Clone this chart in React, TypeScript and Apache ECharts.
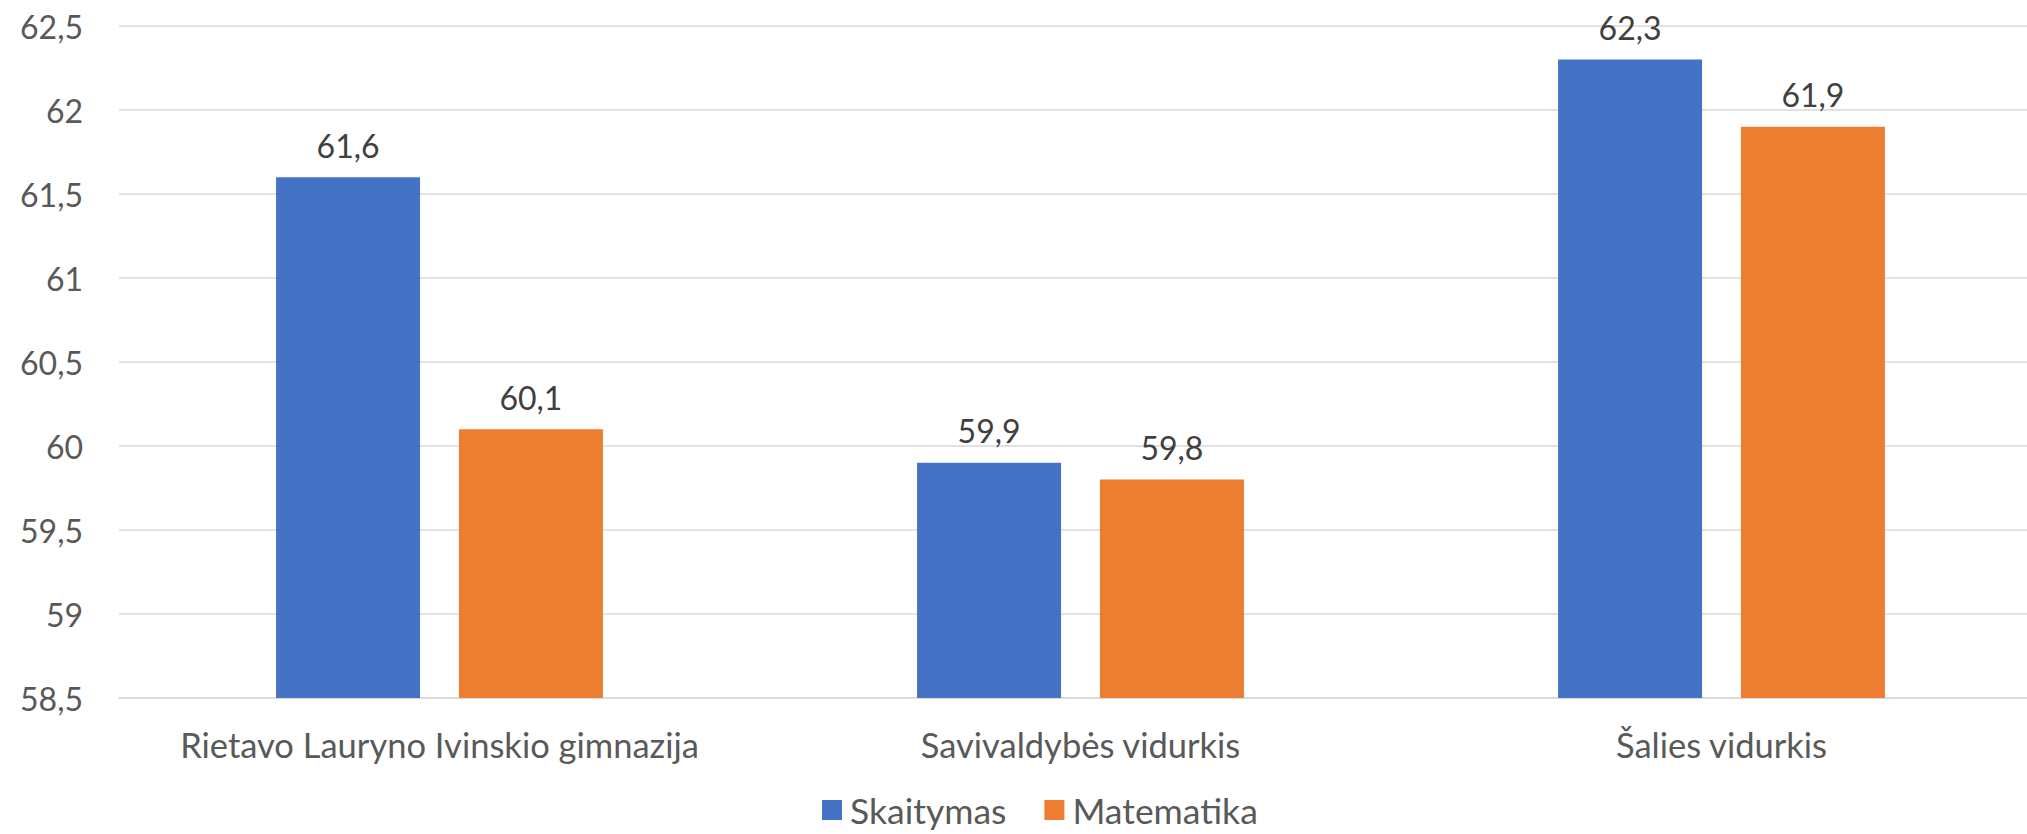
import React, { useEffect, useRef } from "react";
import * as echarts from "echarts";

const categories = ["Rietavo Lauryno Ivinskio gimnazija", "Savivaldybės vidurkis", "Šalies vidurkis"];
const skaitymas = [61.6, 59.9, 62.3];
const matematika = [60.1, 59.8, 61.9];
const seriesNames = ["Skaitymas", "Matematika"];

const fmt = (v: number) => String(v).replace(".", ",");
const FONT = "Lato";

export default function App() {
  const ref = useRef<HTMLDivElement>(null);
  useEffect(() => {
    const chart = echarts.init(ref.current!, null, { renderer: "svg" });
    const label = {
      show: true,
      position: "top",
      distance: 16,
      color: "#404040",
      fontSize: 32,
      fontFamily: FONT,
      formatter: (p: any) => fmt(p.value),
    };
    chart.setOption({
      animation: false,
      backgroundColor: "#ffffff",
      textStyle: { fontFamily: FONT },
      grid: { left: 119, right: 0, top: 26, bottom: 136, containLabel: false },
      legend: {
        data: seriesNames,
        top: 792,
        left: 822,
        padding: 0,
        itemWidth: 20,
        itemHeight: 20,
        itemGap: 38,
        icon: "rect",
        textStyle: { fontSize: 35.5, color: "#595959", fontFamily: FONT, padding: [0, 0, 0, 3] },
      },
      xAxis: {
        type: "category",
        data: categories,
        axisLine: { show: true, lineStyle: { color: "#d9d9d9", width: 1.5 } },
        axisTick: { show: false },
        axisLabel: { fontSize: 34.5, color: "#595959", fontFamily: FONT, margin: 29, interval: 0 },
      },
      yAxis: {
        type: "value",
        min: 58.5,
        max: 62.5,
        interval: 0.5,
        axisLine: { show: false },
        axisTick: { show: false },
        splitLine: { lineStyle: { color: "#d9d9d9", width: 1.5 } },
        axisLabel: { fontSize: 32, color: "#595959", fontFamily: FONT, margin: 36, formatter: (v: number) => fmt(v) },
      },
      series: [
        {
          name: seriesNames[0],
          type: "bar",
          data: skaitymas,
          barWidth: 144,
          barGap: "27%",
          itemStyle: { color: "#4472C4" },
          label,
        },
        {
          name: seriesNames[1],
          type: "bar",
          data: matematika,
          barWidth: 144,
          barGap: "27%",
          itemStyle: { color: "#ED7D31" },
          label,
        },
      ],
    });
    return () => chart.dispose();
  }, []);
  return (
    <div style={{ position: "absolute", left: 0, top: 0, width: 2027, height: 834, overflow: "hidden", background: "#fff" }}>
      <div ref={ref} style={{ position: "absolute", left: 0, top: 0, width: 2042, height: 834 }} />
    </div>
  );
}
